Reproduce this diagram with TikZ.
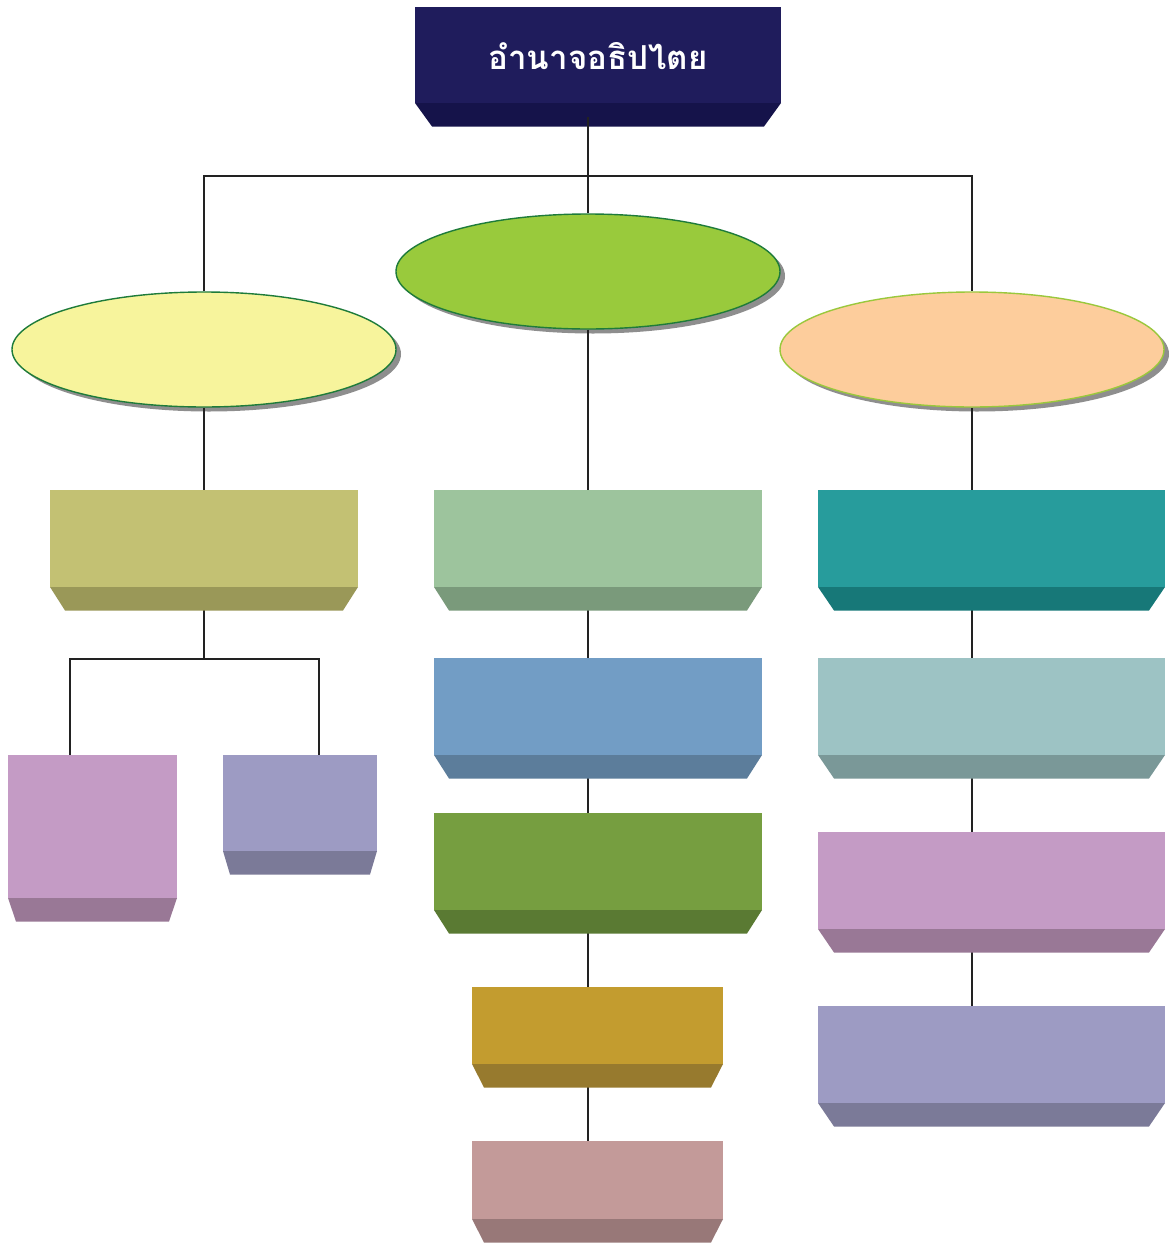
\documentclass[tikz,border=0pt]{standalone}
\usepackage{fontspec}
\newfontfamily\thaifont[Script=Thai]{Loma}
\usetikzlibrary{shapes.geometric,calc,backgrounds}
\definecolor{navy}{HTML}{1F1C5C}
\definecolor{navyb}{HTML}{15134A}
\definecolor{eyel}{HTML}{F7F49C}
\definecolor{egrn}{HTML}{99CA3C}
\definecolor{eorg}{HTML}{FDCD9C}
\definecolor{edge}{HTML}{1E7B3A}
\definecolor{edgeL}{HTML}{9AC83C}
\definecolor{olv}{HTML}{C3C173}\definecolor{olvb}{HTML}{9A9858}
\definecolor{mauv}{HTML}{C49BC5}\definecolor{mauvb}{HTML}{997896}
\definecolor{lav}{HTML}{9D9BC3}\definecolor{lavb}{HTML}{7B7A98}
\definecolor{sage}{HTML}{9DC49D}\definecolor{sageb}{HTML}{7A9A7B}
\definecolor{sky}{HTML}{729DC5}\definecolor{skyb}{HTML}{5C7D9B}
\definecolor{leaf}{HTML}{769E40}\definecolor{leafb}{HTML}{5A7A33}
\definecolor{gold}{HTML}{C39C2F}\definecolor{goldb}{HTML}{977A2E}
\definecolor{rose}{HTML}{C39A99}\definecolor{roseb}{HTML}{987878}
\definecolor{teal}{HTML}{279C9C}\definecolor{tealb}{HTML}{177878}
\definecolor{aqua}{HTML}{9DC3C4}\definecolor{aquab}{HTML}{7A9898}
\definecolor{shad}{HTML}{8E8E8E}
\definecolor{conn}{HTML}{222222}
\tikzset{
  facebox/.style={rectangle, draw=none, inner sep=0pt, outer sep=0pt},
  oval/.style={ellipse, line width=1.4pt, inner sep=0pt, minimum width=384pt, minimum height=115pt},
  link/.style={draw=conn, line width=1.5pt},
}
% name, x1, y1, x2, y2, face, bevel, inset
\newcommand\bevbox[8]{%
  \node[facebox, fill=#6, minimum width={#4-#2}, minimum height={#5-#3}] (#1) at ({(#2+#4)/2},{(#3+#5)/2}) {};
  \fill[#7] (#1.south west) -- (#1.south east) -- ++(-#8,23.5) -- ($(#1.south west)+(#8,23.5)$) -- cycle;
}
\begin{document}
\begin{tikzpicture}[x=1pt,y=-1pt]
\begin{scope}[on background layer]
  \fill[white] (0,0) rectangle (1171,1245);
\end{scope}
\useasboundingbox (0,0) rectangle (1171,1245);
% top
\bevbox{top}{415}{7}{781}{103}{navy}{navyb}{17}
\node[text=white, font=\thaifont\bfseries\fontsize{33}{38}\selectfont] (title) at (598,56) {อำนาจอธิปไตย};
% ellipses
\node[oval, draw=edge, fill=eyel] (eL) at (204,349.5) {};
\node[oval, draw=edge, fill=egrn] (eC) at (588,271.5) {};
\node[oval, draw=edgeL, fill=eorg] (eR) at (972,349.5) {};
% left column
\bevbox{L1}{50}{490}{358}{587}{olv}{olvb}{15}
\bevbox{L2a}{8}{755}{177}{898}{mauv}{mauvb}{8}
\bevbox{L2b}{223}{755}{377}{851}{lav}{lavb}{7}
% center column
\bevbox{C1}{434}{490}{762}{587}{sage}{sageb}{15}
\bevbox{C2}{434}{658}{762}{755}{sky}{skyb}{15}
\bevbox{C3}{434}{813}{762}{910}{leaf}{leafb}{15}
\bevbox{C4}{472}{987}{723}{1064}{gold}{goldb}{12}
\bevbox{C5}{472}{1141}{723}{1219}{rose}{roseb}{12}
% right column
\bevbox{R1}{818}{490}{1165}{587}{teal}{tealb}{16}
\bevbox{R2}{818}{658}{1165}{755}{aqua}{aquab}{16}
\bevbox{R3}{818}{832}{1165}{929}{mauv}{mauvb}{16}
\bevbox{R4}{818}{1006}{1165}{1103}{lav}{lavb}{16}
\coordinate (hub) at (588,176);
\coordinate (lhub) at (204,659);
\draw[link] ($(top.south -| hub)+(0,14)$) -- (hub);
\begin{scope}[on background layer]
  \foreach \e in {eL,eC,eR}{
    \fill[shad] ($(\e.center)+(5,4.5)$) ellipse (192 and 57.5);
  }
  \draw[link] (eL.north) |- (hub) -| (eR.north);
  \draw[link] (hub) -- (eC.north);
  \draw[link] (eL.south) -- (L1.north);
  \draw[link] (L1.south) -- (lhub);
  \draw[link] ($(L2a.north)+(-22.5,0)$) |- (lhub) -| ($(L2b.north)+(19,0)$);
  \draw[link] (eC.south) -- (eC.south |- C5.north);
  \draw[link] (eR.south) -- (eR.south |- R4.north);
\end{scope}
\end{tikzpicture}
\end{document}
